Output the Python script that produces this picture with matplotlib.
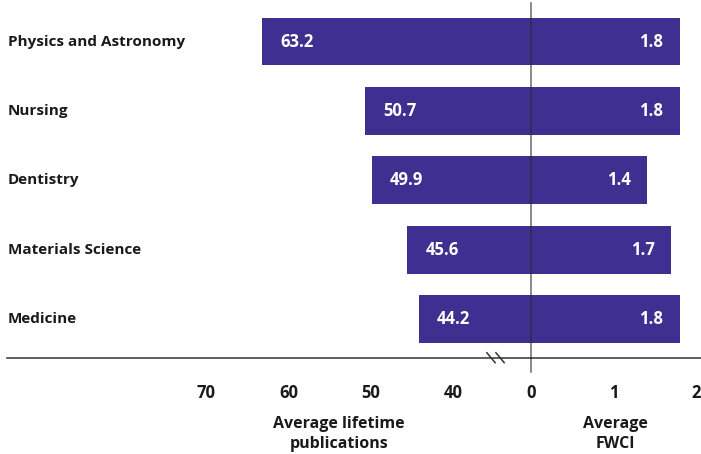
import matplotlib
matplotlib.use('Agg')
import matplotlib.pyplot as plt
import matplotlib.transforms as mtransforms

# subject areas, top to bottom
subjects = ['Physics and Astronomy', 'Nursing', 'Dentistry',
            'Materials Science', 'Medicine']
publications = [63.2, 50.7, 49.9, 45.6, 44.2]
fwci = [1.8, 1.8, 1.4, 1.7, 1.8]
pub_ticks = [70, 60, 50, 40]
fwci_ticks = [0, 1, 2]

bar_color = '#3e2f91'
plt.rcParams['font.family'] = ['Open Sans', 'DejaVu Sans']

W, H = 701, 454
fig = plt.figure(figsize=(W / 100, H / 100), dpi=100)

# both panels share the same pixel scale: 10 publications == 1 FWCI
px_per_unit = 82.5
zero_px = 531
left_px = 7
bottom = (H - 357.7) / H
top = 1 - 3 / H
pub_break = 30.6

ax_l = fig.add_axes([left_px / W, bottom, (zero_px - left_px) / W, top - bottom])
ax_r = fig.add_axes([zero_px / W, bottom, (W - zero_px) / W, top - bottom])

ax_l.set_xlim(pub_break + (zero_px - left_px) / px_per_unit * 10, pub_break)
ax_r.set_xlim(0, (W - zero_px) / px_per_unit)

y = list(range(len(subjects)))
for ax in (ax_l, ax_r):
    ax.set_ylim(4.556, -0.555)
    for s in ('top', 'left', 'right'):
        ax.spines[s].set_visible(False)
    ax.spines['bottom'].set_color('#333333')
    ax.spines['bottom'].set_linewidth(1.1)
    ax.set_yticks([])
    ax.tick_params(axis='x', length=0, pad=19, labelsize=12)
    ax.set_facecolor('none')

# publications grow leftwards from the axis break
ax_l.barh(y, [p - pub_break for p in publications], left=pub_break,
          height=0.69, color=bar_color)
ax_r.barh(y, fwci, height=0.69, color=bar_color)

ax_l.set_xticks(pub_ticks)
ax_r.set_xticks(fwci_ticks)
for lab in ax_l.get_xticklabels() + ax_r.get_xticklabels():
    lab.set_fontweight('bold')
    lab.set_color('#1a1a1a')

for yi, p, f in zip(y, publications, fwci):
    ax_l.annotate('%.1f' % p, xy=(p, yi), xytext=(18, 0),
                  textcoords='offset pixels', ha='left', va='center',
                  color='white', fontsize=12, fontweight='bold')
    ax_r.annotate('%.1f' % f, xy=(f, yi), xytext=(-16, 0),
                  textcoords='offset pixels', ha='right', va='center',
                  color='white', fontsize=12, fontweight='bold')

# subject names at the left edge of the figure
name_tr = mtransforms.blended_transform_factory(fig.transFigure, ax_l.transData)
for yi, name in zip(y, subjects):
    ax_l.text(8 / W, yi, name, transform=name_tr, ha='left', va='center',
              fontsize=11, fontweight='bold', color='#1a1a1a')

# zero line running through the bars
ax_r.axvline(0, ymin=-0.04, ymax=1, color='#2b2b2b', lw=1.1,
             clip_on=False, zorder=3, alpha=0.7)

# axis break marks
brk_tr = mtransforms.blended_transform_factory(ax_l.transData, ax_l.transAxes)
for xb in (35.45, 34.35):
    ax_l.plot([xb + 0.5, xb - 0.5], [0.014, -0.014], color='#333333',
              lw=1.1, transform=brk_tr, clip_on=False)

fig.text(339 / W, 1 - 434 / H, 'Average lifetime\npublications',
         ha='center', va='center', fontsize=11.5, fontweight='bold',
         linespacing=1.3, color='#1a1a1a')
fig.text(615 / W, 1 - 434 / H, 'Average\nFWCI',
         ha='center', va='center', fontsize=11.5, fontweight='bold',
         linespacing=1.3, color='#1a1a1a')

fig.savefig('out.png', dpi=100)
